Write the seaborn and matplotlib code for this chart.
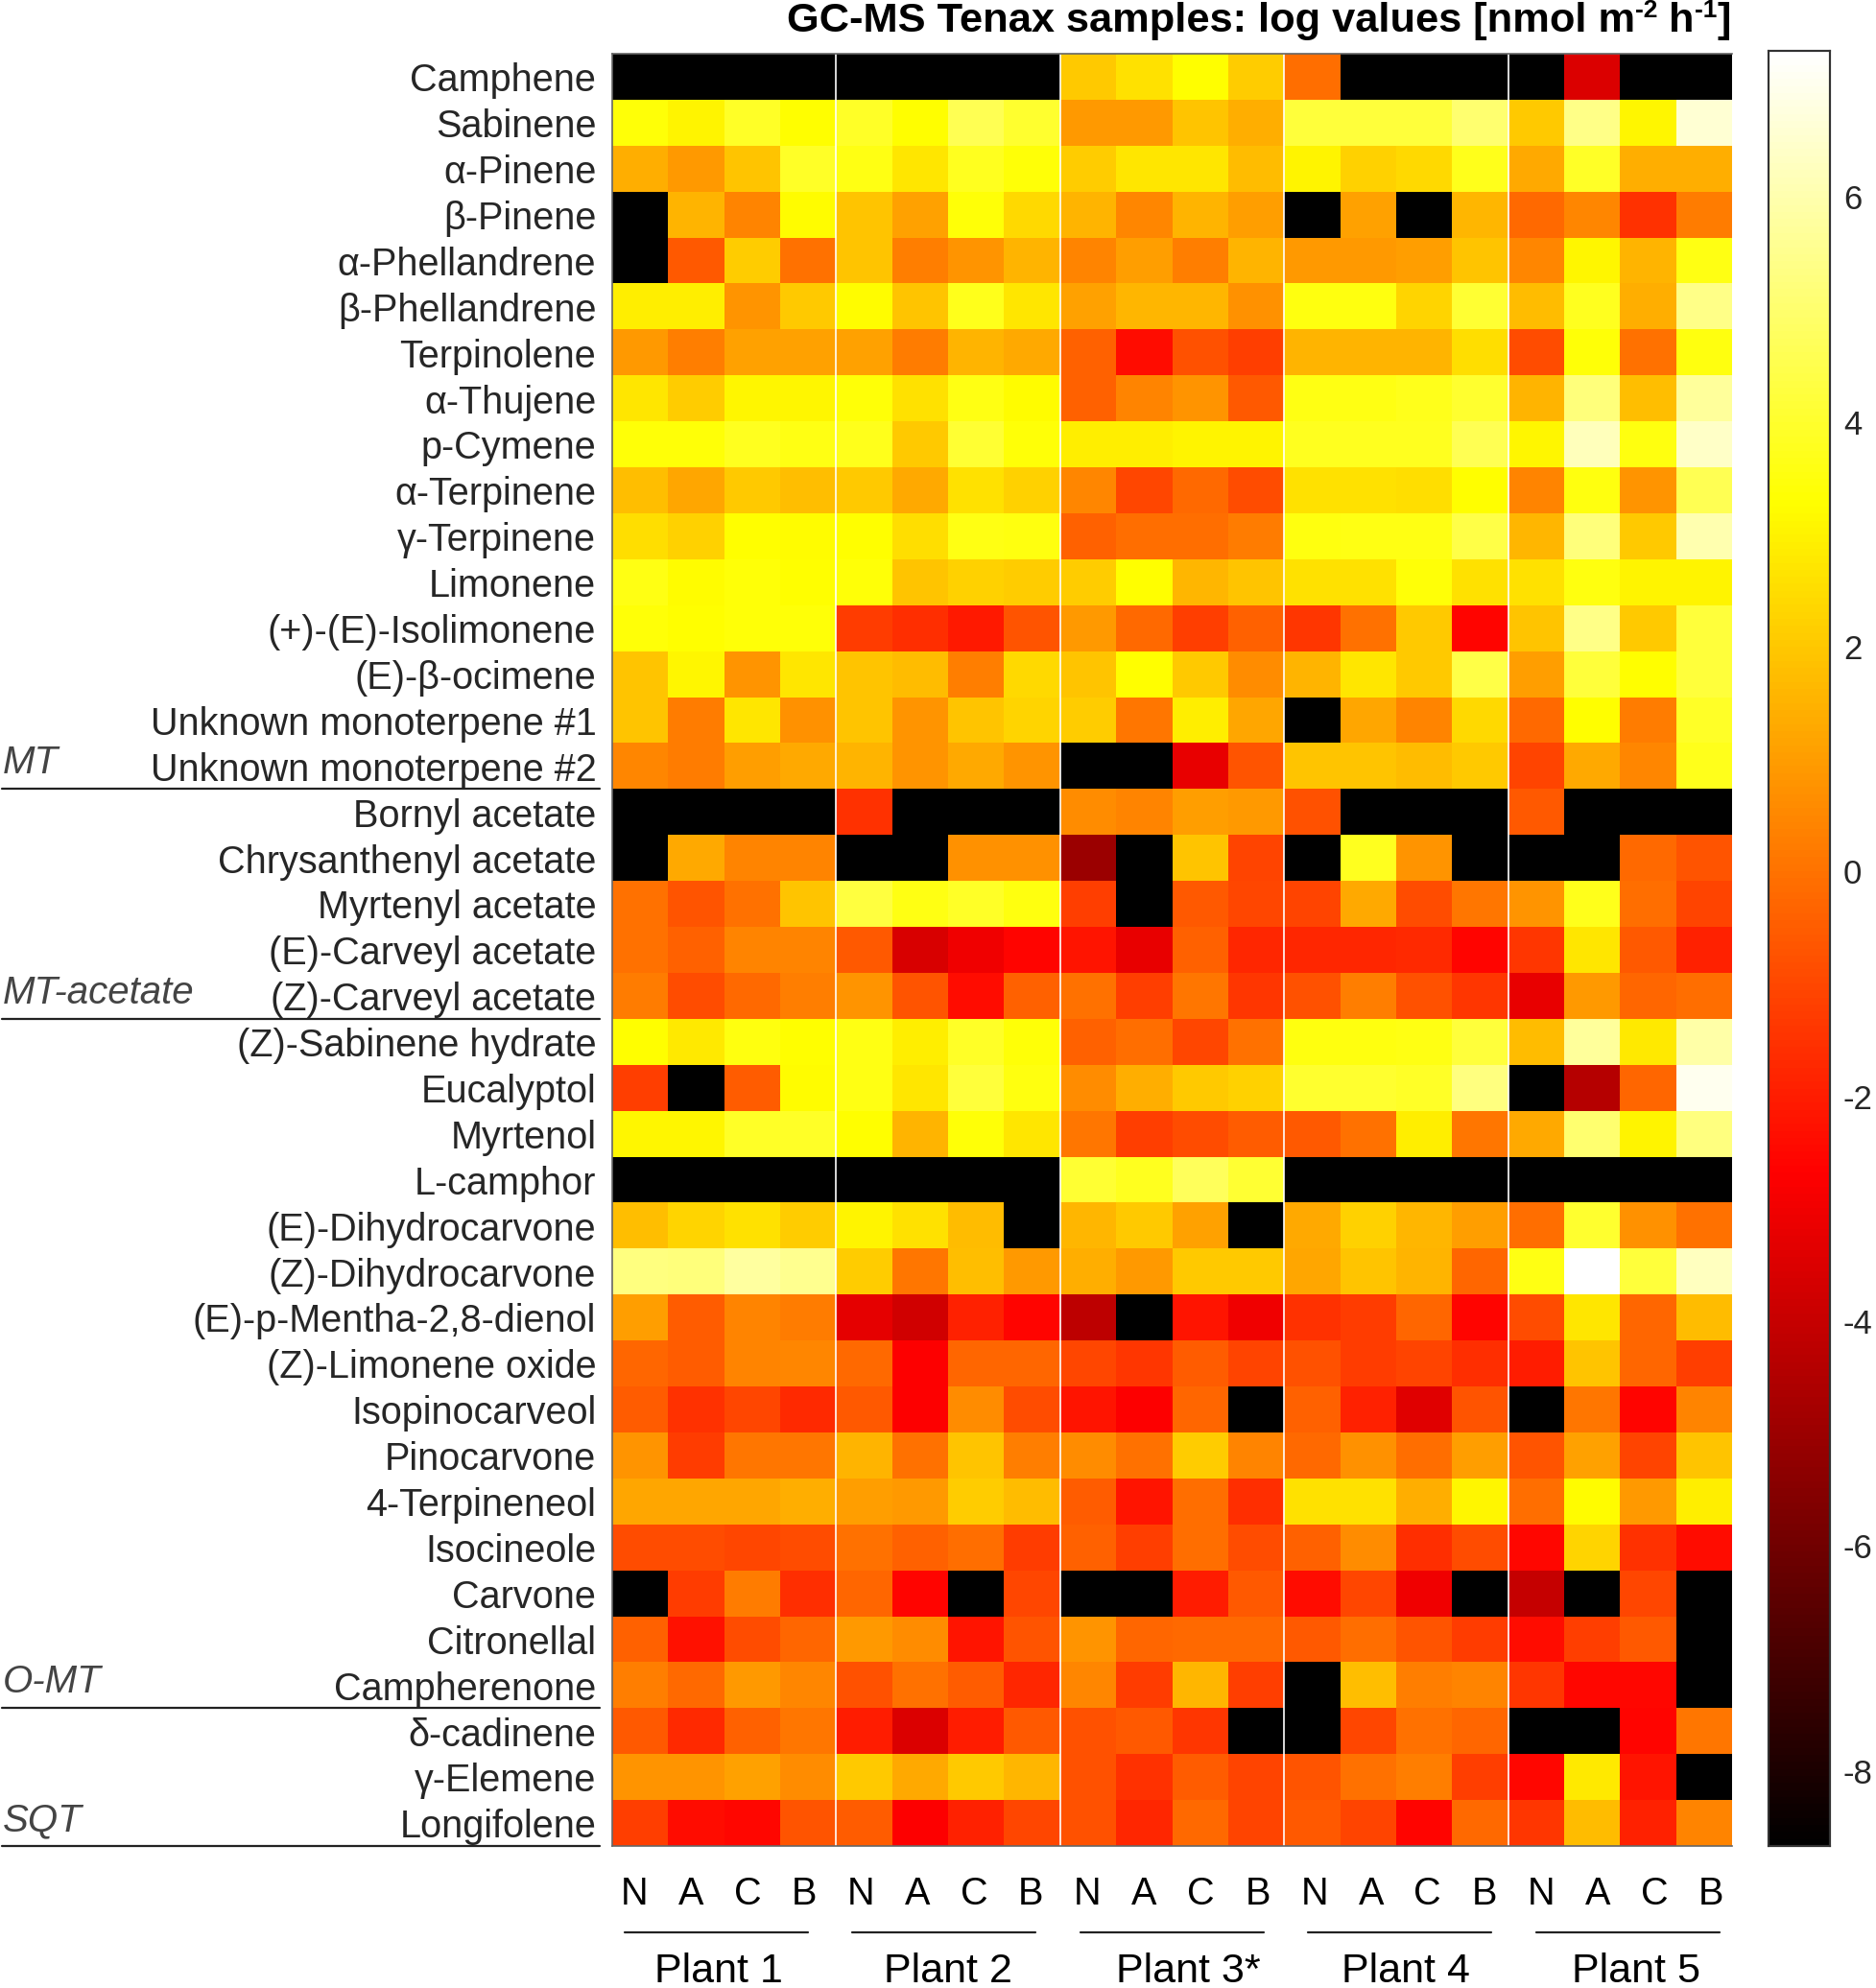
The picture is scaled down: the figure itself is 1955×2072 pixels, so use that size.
import numpy as np
import matplotlib
matplotlib.use('Agg')
import matplotlib.pyplot as plt
import seaborn as sns
from matplotlib.colors import LinearSegmentedColormap
from matplotlib.lines import Line2D

#no emission measured, bottom of the colour scale
nd = -8.67

compounds = ['Camphene', 'Sabinene', 'α-Pinene', 'β-Pinene', 'α-Phellandrene', 'β-Phellandrene',
             'Terpinolene', 'α-Thujene', 'p-Cymene', 'α-Terpinene', 'γ-Terpinene', 'Limonene',
             '(+)-(E)-Isolimonene', '(E)-β-ocimene', 'Unknown monoterpene #1', 'Unknown monoterpene #2',
             'Bornyl acetate', 'Chrysanthenyl acetate', 'Myrtenyl acetate', '(E)-Carveyl acetate',
             '(Z)-Carveyl acetate', '(Z)-Sabinene hydrate', 'Eucalyptol', 'Myrtenol', 'L-camphor',
             '(E)-Dihydrocarvone', '(Z)-Dihydrocarvone', '(E)-p-Mentha-2,8-dienol', '(Z)-Limonene oxide',
             'Isopinocarveol', 'Pinocarvone', '4-Terpineneol', 'Isocineole', 'Carvone', 'Citronellal',
             'Campherenone', 'δ-cadinene', 'γ-Elemene', 'Longifolene']
treatments = ['N', 'A', 'C', 'B'] * 5
plants = ['Plant 1', 'Plant 2', 'Plant 3*', 'Plant 4', 'Plant 5']
groups = ['MT', 'MT-acetate', 'O-MT', 'SQT']
group_ends = [16, 21, 36, 39]
cbar_ticks = [-8, -6, -4, -2, 0, 2, 4, 6]

camphene = [nd, nd, nd, nd, nd, nd, nd, nd, 2.0, 2.6, 3.3, 2.1, -0.1, nd, nd, nd, nd, -3.5, nd, nd]
sabinene = [3.4, 3.0, 3.9, 3.3, 3.9, 3.3, 4.6, 4.0, 0.9, 0.9, 1.9, 1.4, 4.2, 4.2, 4.2, 5.0, 2.0, 5.4, 3.1, 6.6]
a_pinene = [1.4, 0.9, 1.9, 3.9, 3.6, 2.7, 3.8, 3.4, 2.1, 2.7, 2.7, 1.7, 3.0, 2.2, 2.4, 3.7, 1.3, 3.9, 1.4, 1.4]
b_pinene = [nd, 1.5, 0.4, 3.2, 1.9, 1.1, 3.4, 2.4, 1.5, 0.5, 1.5, 1.0, nd, 1.1, nd, 1.6, -0.2, 0.5, -1.5, 0.2]
a_phell = [nd, -0.6, 2.1, 0.0, 1.9, 0.3, 0.8, 1.5, 0.4, 1.0, 0.3, 1.5, 0.9, 0.9, 1.0, 1.9, 0.5, 3.1, 1.5, 3.6]
b_phell = [2.9, 2.9, 0.8, 2.0, 3.2, 1.9, 3.7, 2.7, 1.1, 1.6, 1.6, 0.7, 3.5, 3.5, 2.3, 4.1, 1.7, 3.8, 1.4, 5.4]
terpinolene = [0.9, 0.3, 1.1, 1.1, 1.1, 0.2, 1.5, 1.3, -0.4, -2.4, -0.8, -1.2, 1.5, 1.5, 1.5, 2.5, -0.9, 3.4, 0.0, 3.5]
a_thujene = [2.7, 2.1, 3.1, 3.1, 3.4, 2.6, 3.6, 3.2, -0.4, 0.4, 0.8, -0.6, 3.6, 3.6, 3.7, 4.0, 1.5, 5.2, 1.8, 5.7]
p_cymene = [3.4, 3.4, 3.8, 3.6, 3.7, 2.0, 4.1, 3.4, 2.9, 2.9, 3.0, 3.0, 3.8, 3.8, 3.8, 4.6, 3.1, 6.2, 3.5, 6.4]
a_terpinene = [1.8, 1.2, 2.0, 1.8, 2.0, 1.3, 2.6, 2.2, 0.5, -1.0, -0.2, -0.9, 2.6, 2.6, 2.5, 3.3, 0.4, 3.5, 0.8, 4.6]
g_terpinene = [2.5, 2.2, 3.3, 3.2, 3.3, 2.5, 3.6, 3.5, -0.4, -0.1, -0.1, 0.2, 3.5, 3.6, 3.6, 4.4, 1.6, 5.2, 2.0, 6.0]
limonene = [3.6, 3.2, 3.4, 3.3, 3.4, 1.9, 2.2, 2.1, 2.1, 3.3, 1.6, 1.9, 2.6, 2.6, 3.4, 2.6, 2.6, 3.5, 3.0, 3.0]
isolimonene = [3.4, 3.3, 3.4, 3.4, -1.3, -1.6, -2.1, -0.7, 0.9, -0.2, -1.2, -0.4, -1.4, 0.0, 2.0, -2.6, 1.9, 5.4, 2.0, 4.2]
ocimene = [1.9, 3.1, 0.8, 2.7, 1.9, 1.7, 0.3, 2.4, 1.9, 3.3, 2.0, 0.6, 1.5, 2.7, 2.0, 4.4, 1.0, 4.2, 3.3, 4.2]
unknown_1 = [1.9, 0.2, 2.7, 0.7, 1.9, 0.8, 1.9, 2.3, 2.1, 0.1, 2.9, 1.2, nd, 1.2, 0.4, 2.4, -0.2, 3.3, 0.2, 3.9]
unknown_2 = [0.5, 0.2, 1.0, 1.3, 1.5, 0.8, 1.3, 0.8, nd, nd, -3.2, -0.7, 1.9, 1.9, 1.7, 2.0, -1.1, 1.3, 0.5, 3.7]
bornyl = [nd, nd, nd, nd, -1.5, nd, nd, nd, 0.6, 0.4, 1.0, 0.9, -0.8, nd, nd, nd, -0.6, nd, nd, nd]
chrysanthenyl = [nd, 1.3, 0.4, 0.4, nd, nd, 0.7, 0.7, -5.0, nd, 1.9, -1.1, nd, 3.8, 0.8, nd, nd, nd, -0.2, -0.7]
myrtenyl = [0.0, -0.7, 0.0, 1.9, 4.3, 3.6, 3.9, 3.5, -1.2, nd, -0.6, -1.0, -1.1, 1.3, -0.9, 0.1, 0.8, 3.7, -0.1, -1.1]
e_carveyl = [0.0, -0.4, 0.4, 0.4, -0.6, -3.6, -3.0, -2.6, -2.2, -3.2, -0.4, -1.8, -1.8, -1.8, -1.7, -2.6, -1.4, 2.7, -0.6, -1.9]
z_carveyl = [0.2, -0.9, -0.2, 0.3, 0.8, -0.7, -2.4, -0.4, 0.0, -1.2, 0.1, -1.4, -0.8, 0.3, -0.8, -1.4, -3.2, 0.9, -0.3, -0.1]
sabinene_hyd = [3.3, 2.8, 3.5, 3.3, 3.6, 2.9, 3.9, 3.4, -0.4, -0.1, -1.0, 0.0, 3.5, 3.5, 3.6, 4.2, 1.7, 5.7, 2.8, 5.9]
eucalyptol = [-1.2, nd, -0.5, 3.2, 3.6, 2.7, 4.2, 3.5, 0.6, 1.4, 2.0, 2.2, 4.0, 4.0, 3.9, 5.3, nd, -4.4, -0.3, 7.0]
myrtenol = [3.1, 3.1, 3.9, 3.9, 3.3, 1.5, 3.4, 2.7, 0.1, -1.2, -0.9, -0.5, -0.6, 0.0, 2.9, 0.1, 1.3, 5.0, 3.0, 5.3]
l_camphor = [nd, nd, nd, nd, nd, nd, nd, nd, 4.1, 3.8, 4.7, 4.1, nd, nd, nd, nd, nd, nd, nd, nd]
e_dihydro = [1.8, 2.3, 2.6, 2.1, 3.0, 2.6, 1.7, nd, 1.6, 2.0, 1.1, nd, 1.3, 2.2, 1.6, 1.0, -0.1, 4.0, 0.7, 0.0]
z_dihydro = [5.3, 5.2, 5.8, 5.5, 2.1, 0.1, 1.8, 0.9, 1.4, 0.9, 2.0, 2.0, 1.2, 1.9, 1.5, -0.3, 3.6, 7.3, 4.2, 6.3]
mentha = [1.0, -0.5, 0.4, 0.2, -3.3, -3.8, -1.9, -2.6, -4.2, nd, -2.2, -3.0, -1.5, -1.3, -0.3, -2.6, -0.9, 2.7, -0.3, 1.7]
limonene_ox = [-0.3, -0.5, 0.4, 0.5, -0.2, -2.7, -0.3, -0.3, -1.0, -1.4, -0.5, -1.1, -0.8, -1.3, -1.1, -1.6, -2.0, 1.9, -0.3, -1.2]
isopinocarveol = [-0.5, -1.5, -1.0, -1.7, -0.6, -2.7, 0.6, -0.9, -2.2, -2.7, -0.3, nd, -0.4, -1.9, -3.4, -0.7, nd, 0.1, -2.6, 0.4]
pinocarvone = [0.8, -1.3, 0.1, 0.1, 1.5, 0.0, 1.9, 0.3, 0.6, 0.0, 2.1, 0.4, -0.2, 0.7, -0.1, 1.0, -0.7, 1.1, -1.1, 1.9]
terpineneol = [1.2, 1.2, 1.2, 1.4, 1.0, 0.9, 2.1, 1.7, -0.5, -2.2, -0.1, -1.6, 2.6, 2.6, 1.4, 3.1, -0.1, 3.2, 0.9, 2.9]
isocineole = [-0.9, -0.9, -1.0, -0.9, 0.0, -0.4, -0.1, -1.3, -0.4, -1.2, -0.1, -0.9, -0.4, 0.6, -1.6, -0.9, -2.5, 2.3, -1.5, -2.4]
carvone = [nd, -1.3, 0.2, -1.6, -0.3, -2.6, nd, -1.0, nd, nd, -2.0, -0.6, -2.4, -1.0, -3.0, nd, -4.0, nd, -1.0, nd]
citronellal = [-0.4, -2.3, -0.9, -0.3, 0.9, 0.6, -2.2, -0.7, 0.8, -0.3, -0.2, -0.2, -0.6, -0.1, -0.7, -1.3, -2.4, -1.2, -0.6, nd]
campherenone = [0.3, -0.2, 0.9, 0.5, -0.8, 0.0, -0.5, -1.8, 0.5, -1.3, 1.6, -1.2, nd, 1.8, 0.3, 0.4, -1.4, -2.5, -2.5, nd]
cadinene = [-0.6, -1.7, -0.4, 0.1, -2.0, -3.5, -2.0, -0.6, -0.8, -0.6, -1.4, nd, nd, -1.0, 0.0, -0.3, nd, nd, -2.6, 0.1]
elemene = [0.8, 0.8, 1.1, 0.6, 2.0, 1.3, 2.0, 1.6, -0.8, -1.5, -0.5, -1.1, -0.7, 0.0, 0.3, -1.2, -2.5, 2.8, -2.2, nd]
longifolene = [-1.2, -2.4, -2.5, -0.7, -0.5, -2.7, -1.9, -1.0, -0.8, -1.8, -0.2, -1.1, -0.6, -1.1, -2.6, -0.2, -1.4, 1.7, -1.9, 0.4]

values = np.array([camphene, sabinene, a_pinene, b_pinene, a_phell, b_phell, terpinolene, a_thujene,
                   p_cymene, a_terpinene, g_terpinene, limonene, isolimonene, ocimene, unknown_1, unknown_2,
                   bornyl, chrysanthenyl, myrtenyl, e_carveyl, z_carveyl, sabinene_hyd, eucalyptol, myrtenol,
                   l_camphor, e_dihydro, z_dihydro, mentha, limonene_ox, isopinocarveol, pinocarvone,
                   terpineneol, isocineole, carvone, citronellal, campherenone, cadinene, elemene, longifolene])

sns.set_theme(style='white')
plt.rcParams['font.family'] = ['Liberation Sans', 'DejaVu Sans']
plt.rcParams['axes.unicode_minus'] = False

W, H = 1956, 2072
fig = plt.figure(figsize = (W / 100, H / 100), dpi = 100)

#axes boxes in pixels of the reference
def box(left, top, right, bottom):
    return [left / W, 1 - bottom / H, (right - left) / W, (bottom - top) / H]

ax = fig.add_axes(box(638, 56, 1805, 1924))
cax = fig.add_axes(box(1843, 53, 1907, 1924))

text_col = '#262626'
line_col = '#333333'

#matlab hot, starts at real black
hot = LinearSegmentedColormap.from_list('matlab_hot', [(0, 'black'), (0.375, 'red'), (0.75, 'yellow'), (1, 'white')])

sns.heatmap(values, ax = ax, cbar_ax = cax, cmap = hot, vmin = -8.67, vmax = 7.3,
            xticklabels = treatments, yticklabels = compounds)

#row labels sit a little under the cell centres
ax.set_yticks(np.arange(len(compounds)) + 0.59, compounds)
ax.tick_params(axis = 'y', length = 0, pad = 12, labelsize = 28.5, labelcolor = text_col, rotation = 0)

#the letters sit a little wider than the cells
ax.set_xticks(10 + (np.arange(20) - 9.5) * 1.012 + 0.01, treatments)
ax.tick_params(axis = 'x', length = 0, pad = 22, labelsize = 28.5, labelcolor = 'black', rotation = 0)

#white gaps between the plants
for x in range(4, 20, 4):
    ax.axvline(x, color = 'white', lw = 1.2)
for name in ['left', 'top', 'bottom']:
    ax.spines[name].set_visible(True)
    ax.spines[name].set_color('#666666')
    ax.spines[name].set_linewidth(1.2)

#compound class labels with the rule under them
for name, end in zip(groups, group_ends):
    y_px = 56 + end * (1924 - 56) / len(compounds)
    fig.add_artist(Line2D([2 / W, 625 / W], [1 - y_px / H] * 2, color = '#222222', lw = 1.6))
    fig.text(3 / W, 1 - (y_px - 16) / H, name, ha = 'left', va = 'baseline', style = 'italic',
             fontsize = 29, color = '#444444')

#plant brackets below the x labels
plant_x = [749, 988, 1238, 1465, 1705]
for i, name in enumerate(plants):
    left = 651 + i * 237.4
    fig.add_artist(Line2D([left / W, (left + 191) / W], [1 - 2014 / H] * 2, color = '#222222', lw = 1.6))
    fig.text(plant_x[i] / W, 1 - 2066 / H, name, ha = 'center', va = 'baseline', fontsize = 31, color = 'black')

#title written piece by piece, the exponents are real hyphens raised by hand
title_parts = [('GC-MS Tenax samples: log values [nmol m', 0), ('-2', 1), (' h', 0), ('-1', 1), (']', 0)]
renderer = fig.canvas.get_renderer()
x_px = 820
for part, raised in title_parts:
    t = fig.text(x_px / W, 1 - (33 - 15 * raised) / H, part.replace(' ', '\u00a0'), ha = 'left', va = 'baseline',
                 fontweight = 'bold', fontsize = 19 if raised else 31.2, color = 'black')
    x_px = t.get_window_extent(renderer).x1

cax.set_yticks(cbar_ticks)
cax.tick_params(axis = 'y', direction = 'in', length = 14, width = 1.5, pad = 10,
                labelsize = 25, labelcolor = text_col, color = line_col)
for side in cax.spines.values():
    side.set_visible(True)
    side.set_color(line_col)
    side.set_linewidth(1.5)

fig.savefig('out.png', dpi = 100)
